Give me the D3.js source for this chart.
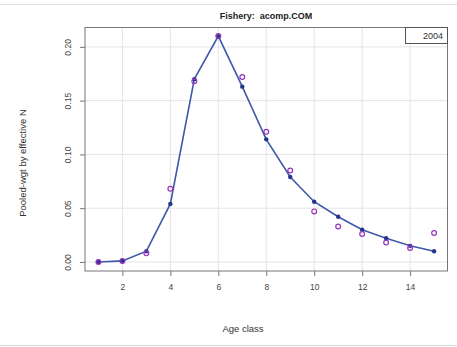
<!DOCTYPE html>
<html>
<head>
<meta charset="utf-8">
<script src="https://cdn.jsdelivr.net/npm/d3@7"></script>
<style>
body { margin: 0; background: #fff; }
text { font-family: "Liberation Sans", Arial, sans-serif; }
</style>
</head>
<body>
<svg id="chart" width="457" height="347"></svg>
<script>
var ages = [1, 2, 3, 4, 5, 6, 7, 8, 9, 10, 11, 12, 13, 14, 15];
var observed = [0.000, 0.001, 0.008, 0.068, 0.168, 0.210, 0.172, 0.121, 0.085, 0.047, 0.033, 0.026, 0.018, 0.013, 0.027];
var expected = [0.000, 0.001, 0.010, 0.054, 0.170, 0.210, 0.163, 0.114, 0.079, 0.056, 0.042, 0.030, 0.022, 0.015, 0.010];
var xTicks = [2, 4, 6, 8, 10, 12, 14];
var yTicks = [0.00, 0.05, 0.10, 0.15, 0.20];
var title = "Fishery:  acomp.COM";
var yearLabel = "2004";

var svg = d3.select("#chart");
var pLeft = 85, pRight = 447.5, pTop = 27.5, pBottom = 271;

var x = d3.scaleLinear().domain([0.44, 15.56]).range([pLeft, pRight]);
var y = d3.scaleLinear().domain([-0.0084, 0.218]).range([pBottom, pTop]);

// page rules
svg.append("line").attr("x1", 0).attr("x2", 457).attr("y1", 4.5).attr("y2", 4.5)
    .attr("stroke", "#ddd").attr("stroke-width", 1);
svg.append("line").attr("x1", 0).attr("x2", 457).attr("y1", 345.5).attr("y2", 345.5)
    .attr("stroke", "#ddd").attr("stroke-width", 1);

// grid
var grid = svg.append("g");
xTicks.forEach(function(t){
    grid.append("line").attr("x1", x(t)).attr("x2", x(t)).attr("y1", pTop).attr("y2", pBottom)
        .attr("stroke", "#e4e4e4").attr("stroke-width", 1);
})
yTicks.forEach(function(t){
    grid.append("line").attr("x1", pLeft).attr("x2", pRight).attr("y1", y(t)).attr("y2", y(t))
        .attr("stroke", "#e4e4e4").attr("stroke-width", 1);
})

// axes
var xAxis = svg.append("g").attr("transform", "translate(0," + pBottom + ")")
    .call(d3.axisBottom(x).tickValues(xTicks).tickSize(5).tickPadding(8).tickFormat(d3.format("d")));
var yAxis = svg.append("g").attr("transform", "translate(" + pLeft + ",0)")
    .call(d3.axisLeft(y).tickValues(yTicks).tickSize(5).tickFormat(d3.format(".2f")));
[xAxis, yAxis].forEach(function(a){
    a.select(".domain").remove();
    a.selectAll("line").attr("stroke", "#777");
    a.selectAll("text").attr("fill", "#444").style("font-size", "8.5px");
})
// R style: y labels rotated, parallel to axis
yAxis.selectAll(".tick text")
    .attr("text-anchor", "middle")
    .attr("x", 0).attr("y", 0).attr("dy", 0)
    .attr("transform", "translate(-14,0) rotate(-90)");

// box
svg.append("rect").attr("x", pLeft).attr("y", pTop).attr("width", pRight - pLeft).attr("height", pBottom - pTop)
    .attr("fill", "none").attr("stroke", "#777").attr("stroke-width", 1);

// expected line
var line = d3.line().x(function(d, i){ return x(ages[i]); }).y(function(d){ return y(d); });
svg.append("path").datum(expected).attr("d", line)
    .attr("fill", "none").attr("stroke", "#3d5aa8").attr("stroke-width", 1.6);
svg.selectAll(".exp").data(expected).enter().append("circle")
    .attr("class", "exp")
    .attr("cx", function(d, i){ return x(ages[i]); })
    .attr("cy", function(d){ return y(d); })
    .attr("r", 2.2).attr("fill", "#26338a");

// observed
svg.selectAll(".obs").data(observed).enter().append("circle")
    .attr("class", "obs")
    .attr("cx", function(d, i){ return x(ages[i]); })
    .attr("cy", function(d){ return y(d); })
    .attr("r", 2.4).attr("fill", "none").attr("stroke", "#9933bb").attr("stroke-width", 1.2);

// legend
svg.append("rect").attr("x", 405.5).attr("y", pTop).attr("width", pRight - 405.5).attr("height", 16)
    .attr("fill", "#fff").attr("stroke", "#555").attr("stroke-width", 1);
svg.append("text").attr("x", 443).attr("y", 39).attr("text-anchor", "end")
    .style("font-size", "9px").attr("fill", "#333").text(yearLabel);

// titles
svg.append("text").attr("x", 266).attr("y", 19).attr("text-anchor", "middle")
    .style("font-size", "9px").style("font-weight", "bold").attr("fill", "#222")
    .style("white-space", "pre").text(title);
svg.append("text").attr("x", 243).attr("y", 332).attr("text-anchor", "middle")
    .style("font-size", "9.5px").attr("fill", "#333").text("Age class");
svg.append("text").attr("transform", "translate(26,163) rotate(-90)")
    .attr("text-anchor", "middle").style("font-size", "9.5px").attr("fill", "#333")
    .text("Pooled-wgt by effective N");
</script>
</body>
</html>
